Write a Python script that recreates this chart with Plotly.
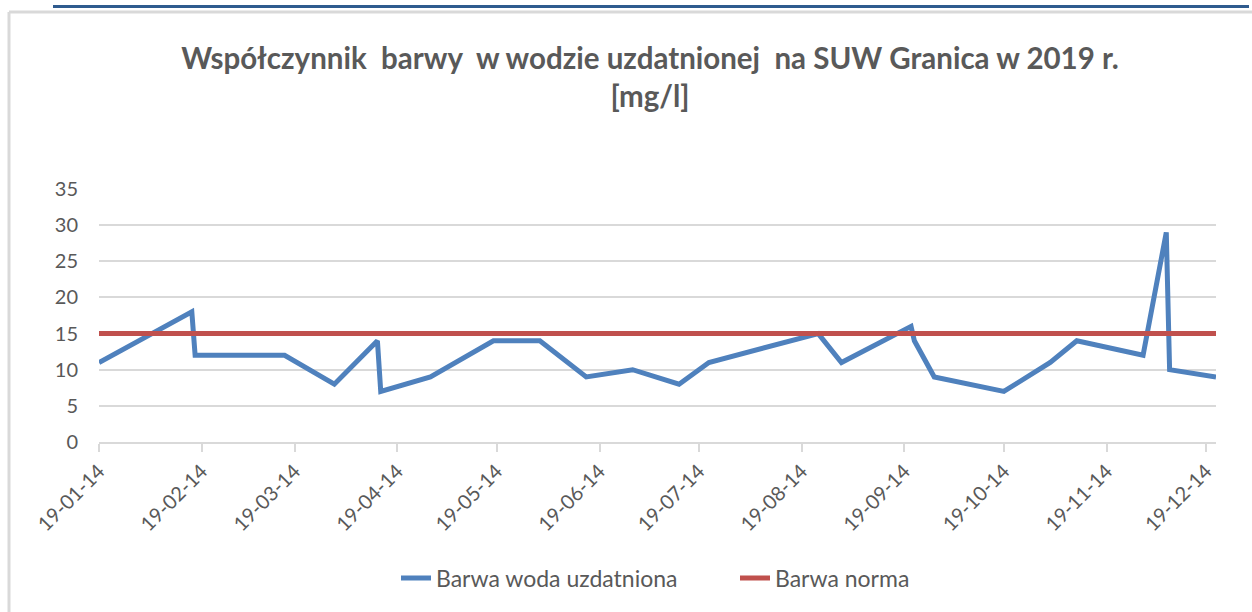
import plotly.graph_objects as go

# ---- data ----
dates = ["2019-01-14", "2019-02-11", "2019-02-12", "2019-03-11", "2019-03-26",
         "2019-04-08", "2019-04-09", "2019-04-24", "2019-05-13", "2019-05-27",
         "2019-06-10", "2019-06-24", "2019-07-08", "2019-07-17", "2019-08-19",
         "2019-08-26", "2019-09-16", "2019-09-17", "2019-09-23", "2019-10-14",
         "2019-10-28", "2019-11-05", "2019-11-25", "2019-12-02", "2019-12-03",
         "2019-12-17"]
barwa_woda = [11, 18, 12, 12, 8, 14, 7, 9, 14, 14, 9, 10, 8, 11, 15, 11, 16, 14,
              9, 7, 11, 14, 12, 29, 10, 9]
barwa_norma = [15] * len(dates)
series_names = ["Barwa woda uzdatniona", "Barwa norma"]
title_text = "Współczynnik  barwy  w wodzie uzdatnionej  na SUW Granica w 2019 r.<br>[mg/l]"

# ---- layout constants ----
W, H = 1252, 612
ML, MR, MT, MB = 99, 36, 189, 170
PW, PH = W - ML - MR, H - MT - MB


def px_x(p):
    return (p - ML) / PW


def px_y(p):
    return (H - MB - p) / PH


FONT = "Lato"
GRAY = "#595959"
GRID = "#d9d9d9"

fig = go.Figure()
fig.add_trace(go.Scatter(x=dates, y=barwa_woda, mode="lines", name=series_names[0],
                         line=dict(color="#4f81bd", width=5)))
fig.add_trace(go.Scatter(x=dates, y=barwa_norma, mode="lines", name=series_names[1],
                         line=dict(color="#c0504d", width=5)))

fig.update_layout(
    width=W, height=H,
    margin=dict(l=ML, r=MR, t=MT, b=MB, autoexpand=False),
    paper_bgcolor="white", plot_bgcolor="white",
    font=dict(family=FONT, color=GRAY, size=20),
    title=dict(text=title_text, x=650 / W, xanchor="center", xref="container",
               y=1 - 69 / H, yanchor="top", yref="container",
               font=dict(family=FONT, size=29.5, color=GRAY, weight="bold")),
    showlegend=True,
    legend=dict(orientation="h", x=px_x(396), xanchor="left",
                y=px_y(578), yanchor="middle", entrywidth=294,
                font=dict(family=FONT, size=23, color=GRAY),
                bgcolor="rgba(0,0,0,0)"),
    xaxis=dict(type="date", range=[dates[0], dates[-1]],
               tick0="2019-01-14", dtick="M1", tickformat="%y-%m-%d",
               tickangle=-45, ticks="outside", ticklen=8, tickwidth=1.5,
               tickcolor=GRID, showline=True, linecolor=GRID, linewidth=1.5,
               showgrid=False, zeroline=False,
               tickfont=dict(family=FONT, size=20, color=GRAY)),
    yaxis=dict(range=[0, 35], dtick=5, showgrid=True, gridcolor=GRID, gridwidth=1.5,
               zeroline=False, showline=False, ticks="", ticklabelstandoff=20,
               tickfont=dict(family=FONT, size=20, color=GRAY)),
    shapes=[
        dict(type="line", xref="paper", yref="paper", x0=px_x(53), x1=px_x(1249),
             y0=px_y(6.5), y1=px_y(6.5), line=dict(color="#2f5b8e", width=3)),
        dict(type="line", xref="paper", yref="paper", x0=px_x(9), x1=px_x(1260),
             y0=px_y(12), y1=px_y(12), line=dict(color="#d9d9d9", width=3)),
        dict(type="line", xref="paper", yref="paper", x0=px_x(9), x1=px_x(9),
             y0=px_y(12), y1=px_y(620), line=dict(color="#d9d9d9", width=3)),
    ],
)

fig.write_html("out.html", config={"displayModeBar": False},
               post_script="document.body.style.margin='0';")
